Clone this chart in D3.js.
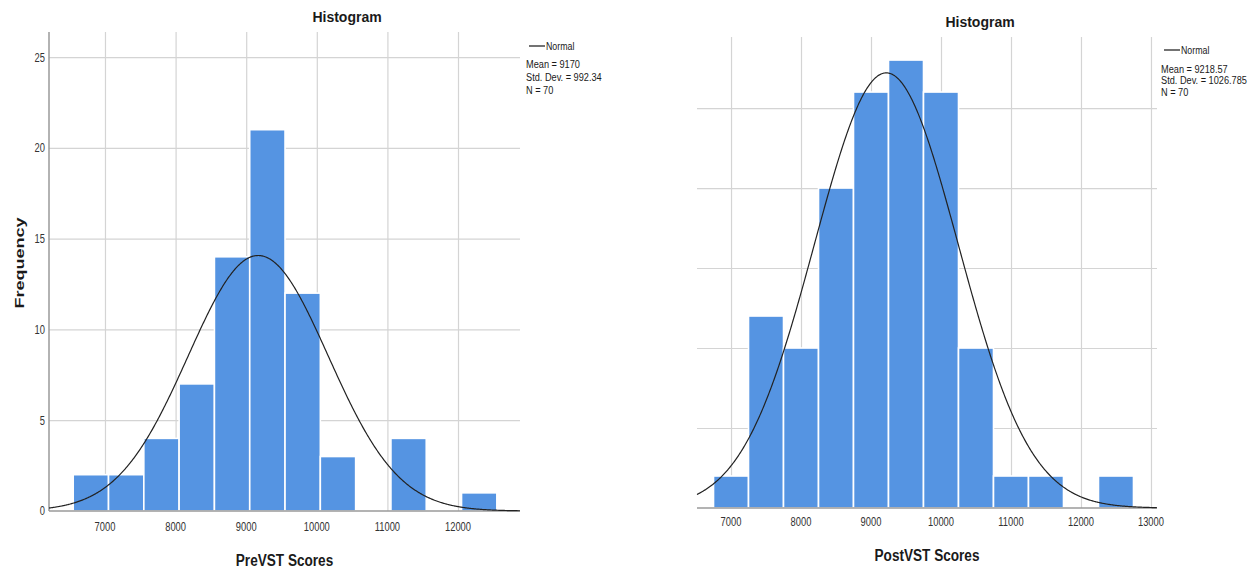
<!DOCTYPE html>
<html>
<head>
<meta charset="utf-8">
<script src="https://cdn.jsdelivr.net/npm/d3@7"></script>
<style>
  html, body { margin: 0; padding: 0; background: #fff; }
  svg { display: block; }
</style>
</head>
<body>
<svg id="chart" width="1252" height="571"></svg>
<script>
// Frequency counts per 500-point bin
const preBinStart = 6550;
const preCounts = [2, 2, 4, 7, 14, 21, 12, 3, 0, 4, 0, 1];
const postBinStart = 6750;
const postCounts = [1, 6, 5, 10, 13, 14, 13, 5, 1, 1, 0, 1];
const binWidth = 500;

// Summary statistics shown in the legends
const preStats = { mean: 9170, sd: 992.34, n: 70 };
const postStats = { mean: 9218.57, sd: 1026.785, n: 70 };
const preStatLabels = ["Mean = 9170", "Std. Dev. = 992.34", "N = 70"];
const postStatLabels = ["Mean = 9218.57", "Std. Dev. = 1026.785", "N = 70"];

// Axis ticks
const preXTicks = [7000, 8000, 9000, 10000, 11000, 12000];
const postXTicks = [7000, 8000, 9000, 10000, 11000, 12000, 13000];
const preYTicks = [0, 5, 10, 15, 20, 25];
const postYGrid = [2.5, 5, 7.5, 10, 12.5];

const BAR = "#5594e2";
const GRID = "#d4d4d4";
const AXIS = "#9a9a9a";
const FONT = "'Liberation Sans', Arial, sans-serif";

const svg = d3.select("#chart");

// Text with a horizontal squeeze, mimicking a condensed face
function label(g, x, y, txt, o) {
  o = o || {};
  const t = g.append("text")
    .attr("transform", `translate(${x},${y}) rotate(${o.rot || 0}) scale(${o.sx || 1},1)`)
    .attr("font-family", FONT)
    .attr("font-size", o.size || 12)
    .attr("font-weight", o.weight || "normal")
    .attr("text-anchor", o.anchor || "start")
    .attr("fill", o.fill || "#1a1a1a")
    .text(txt);
  if (o.middle) t.attr("dominant-baseline", "central");
  return t;
}

function histogram(cfg) {
  const g = svg.append("g");
  const x = d3.scaleLinear().domain(cfg.xDomain).range([cfg.left, cfg.right]);
  const y = d3.scaleLinear().domain([0, cfg.yMax]).range([cfg.bottom, cfg.top]);

  // horizontal grid
  const gy = d3.axisLeft(y).tickValues(cfg.yGrid).tickSize(-(cfg.right - cfg.left)).tickFormat("");
  g.append("g").attr("transform", `translate(${cfg.left},0)`).call(gy)
    .call(a => a.select(".domain").remove())
    .call(a => a.selectAll("line").attr("stroke", GRID).attr("stroke-width", 1.2));

  // vertical grid
  const gx = d3.axisBottom(x).tickValues(cfg.xTicks).tickSize(-(cfg.bottom - cfg.top)).tickFormat("");
  g.append("g").attr("transform", `translate(0,${cfg.bottom})`).call(gx)
    .call(a => a.select(".domain").remove())
    .call(a => a.selectAll("line").attr("stroke", GRID).attr("stroke-width", 1.2));

  // bars
  const bins = cfg.counts.map((c, i) => ({
    x0: cfg.binStart + i * binWidth,
    x1: cfg.binStart + (i + 1) * binWidth,
    c
  })).filter(d => d.c > 0);
  g.append("g").selectAll("rect").data(bins).join("rect")
    .attr("x", d => x(d.x0))
    .attr("width", d => x(d.x1) - x(d.x0))
    .attr("y", d => y(d.c))
    .attr("height", d => y(0) - y(d.c))
    .attr("fill", BAR)
    .attr("stroke", "#fff")
    .attr("stroke-width", 1.6);

  // baseline and optional y axis line
  g.append("line").attr("x1", cfg.left).attr("x2", cfg.right)
    .attr("y1", cfg.bottom).attr("y2", cfg.bottom)
    .attr("stroke", AXIS).attr("stroke-width", 1.5);
  if (cfg.yAxis) {
    g.append("line").attr("x1", cfg.left).attr("x2", cfg.left)
      .attr("y1", cfg.top).attr("y2", cfg.bottom)
      .attr("stroke", AXIS).attr("stroke-width", 1.5);
    cfg.yTicks.forEach(v => label(g, cfg.left - 4, y(v), String(v),
      { size: 12, anchor: "end", sx: 0.78, middle: true, fill: "#333" }));
  }

  // normal curve scaled to counts
  const s = cfg.stats;
  const scale = s.n * binWidth / (s.sd * Math.sqrt(2 * Math.PI));
  const xs = d3.range(cfg.xDomain[0], cfg.xDomain[1] + 1, 10);
  const line = d3.line()
    .x(v => x(v))
    .y(v => y(scale * Math.exp(-0.5 * Math.pow((v - s.mean) / s.sd, 2))))
    .curve(d3.curveLinear);
  g.append("path").datum(xs).attr("d", line)
    .attr("fill", "none").attr("stroke", "#222").attr("stroke-width", 1.2);

  // x tick labels
  cfg.xTicks.forEach(v => label(g, x(v), cfg.bottom + cfg.tickGap, String(v),
    { size: 12, anchor: "middle", sx: 0.78, middle: true, fill: "#333" }));

  // titles
  label(g, cfg.titleX, cfg.titleY, "Histogram", { size: 14, weight: "bold", anchor: "middle" });
  label(g, (cfg.left + cfg.right) / 2, cfg.xTitleY, cfg.xTitle,
    { size: 17, weight: "bold", anchor: "middle", sx: 0.8 });

  // legend
  const L = cfg.legend;
  g.append("line").attr("x1", L.x + 3).attr("x2", L.x + 19)
    .attr("y1", L.y).attr("y2", L.y).attr("stroke", "#444").attr("stroke-width", 1.5);
  label(g, L.x + 20, L.y, "Normal", { size: 11, sx: 0.8, middle: true });
  cfg.statLabels.forEach((t, i) => label(g, L.x, L.y + L.first + i * L.step, t,
    { size: 11.5, sx: 0.8, middle: true }));
}

histogram({
  counts: preCounts, binStart: preBinStart, stats: preStats, statLabels: preStatLabels,
  xDomain: [6207, 12878], left: 49, right: 520, top: 32, bottom: 511,
  yMax: 26.38, yGrid: [5, 10, 15, 20, 25], yTicks: preYTicks, yAxis: true,
  xTicks: preXTicks, tickGap: 16, xTitle: "PreVST Scores", xTitleY: 566,
  titleX: 347, titleY: 22,
  legend: { x: 526, y: 46, first: 18, step: 13 }
});

histogram({
  counts: postCounts, binStart: postBinStart, stats: postStats, statLabels: postStatLabels,
  xDomain: [6514, 13086], left: 697, right: 1157, top: 37, bottom: 508,
  yMax: 14.72, yGrid: postYGrid, yTicks: [], yAxis: false,
  xTicks: postXTicks, tickGap: 14, xTitle: "PostVST Scores", xTitleY: 561,
  titleX: 980, titleY: 27,
  legend: { x: 1161, y: 50, first: 19, step: 11.5 }
});

// shared y-axis title
label(svg, 24, 263, "Frequency", { size: 18, weight: "bold", anchor: "middle", rot: -90, sx: 1 })
  .attr("transform", "translate(24,263) rotate(-90) scale(1,0.75)");
</script>
</body>
</html>
